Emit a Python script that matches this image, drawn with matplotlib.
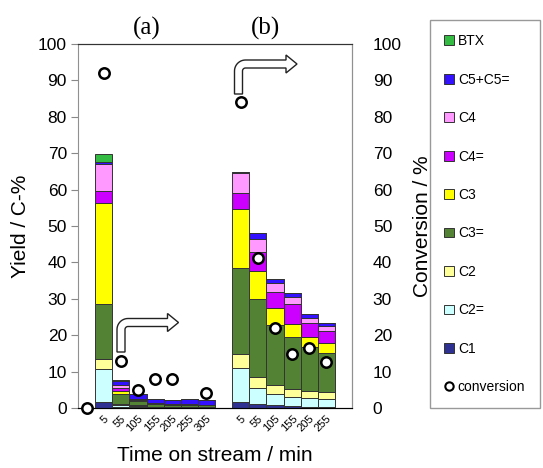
import numpy as np
import matplotlib
matplotlib.use("Agg")
import matplotlib.pyplot as plt
from matplotlib.path import Path
from matplotlib.patches import PathPatch, Patch
from matplotlib.lines import Line2D
from matplotlib.transforms import Affine2D

plt.rcParams['font.family'] = ['Liberation Sans', 'DejaVu Sans']

W, H = 543, 468

# 16 category slots: blank, run (a) 5..305, blank, run (b) 5..255, blank
tick_labels = ['', '5', '55', '105', '155', '205', '255', '305',
               '', '5', '55', '105', '155', '205', '255', '']

# yields, C-% (stack order bottom -> top)
c1   = [0, 1.6, 0.3, 0.3, 0.2, 0.1, 0.1, 0.1, 0, 1.7, 1.0, 0.8, 0.5, 0.4, 0.4, 0]
c2e  = [0, 9.0, 0.4, 0.2, 0.1, 0.1, 0.1, 0.1, 0, 9.4, 4.4, 3.0, 2.4, 2.4, 2.1, 0]
c2   = [0, 2.8, 0.5, 0.2, 0.1, 0.1, 0.1, 0.1, 0, 3.6, 3.0, 2.5, 2.2, 1.9, 1.8, 0]
c3e  = [0, 15.1, 2.6, 1.2, 0.6, 0.5, 0.5, 0.4, 0, 23.8, 21.5, 16.5, 14.3, 12.1, 10.9, 0]
c3   = [0, 27.9, 0.9, 0.3, 0.1, 0.1, 0.1, 0.1, 0, 16.2, 7.7, 4.6, 3.6, 2.8, 2.6, 0]
c4e  = [0, 3.2, 0.7, 0.2, 0.1, 0.1, 0.1, 0.1, 0, 4.3, 5.2, 4.6, 5.5, 3.7, 3.4, 0]
c4   = [0, 7.3, 0.8, 0.1, 0.1, 0.05, 0.05, 0.05, 0, 5.6, 3.6, 2.4, 2.1, 1.5, 1.4, 0]
c5   = [0, 0.6, 1.3, 1.3, 1.2, 1.1, 1.3, 1.3, 0, 0.1, 1.6, 1.0, 1.1, 0.9, 0.7, 0]
btx  = [0, 2.4, 0.2, 0.1, 0, 0, 0, 0, 0, 0, 0, 0, 0, 0, 0, 0]

conversion = [0, 92, 13, 5, 8, 8, np.nan, 4, np.nan,
              84, 41.3, 22.1, 14.7, 16.6, 12.6, np.nan]

series = [
    ('C1', c1, '#2e3192'),
    ('C2=', c2e, '#ccffff'),
    ('C2', c2, '#ffff99'),
    ('C3=', c3e, '#548235'),
    ('C3', c3, '#ffff00'),
    ('C4=', c4e, '#cc00ff'),
    ('C4', c4, '#ff99ff'),
    ('C5+C5=', c5, '#3311ff'),
    ('BTX', btx, '#33bb44'),
]

fig = plt.figure(figsize=(W / 100, H / 100), dpi=100)
ax = fig.add_axes([78 / W, 1 - 408 / H, (352 - 78) / W, (408 - 44) / H])

x = np.arange(len(tick_labels))
bottom = np.zeros(len(x))
for name, vals, col in series:
    v = np.array(vals, dtype=float)
    ax.bar(x, v, width=1.0, bottom=bottom, color=col,
           edgecolor='#333333', linewidth=0.7, zorder=2)
    bottom += v

ax.set_xlim(-0.5, 15.5)
ax.set_ylim(0, 100)
ax.set_yticks(np.arange(0, 101, 10))
ax.set_xticks(x)
ax.set_xticklabels(tick_labels, rotation=45, ha='right', va='top',
                   rotation_mode='anchor', fontsize=8)
ax.tick_params(axis='x', length=0, pad=4)
ax.tick_params(axis='y', labelsize=12.5, length=5, color='#888888', pad=3)
ax.set_ylabel('Yield / C-%', fontsize=15, labelpad=6)
ax.set_xlabel('Time on stream / min', fontsize=15, labelpad=9)
for side in ['left', 'right']:
    ax.spines[side].set_color('#909090')
for side in ['top', 'bottom']:
    ax.spines[side].set_color('#333333')

ax2 = ax.twinx()
ax2.set_ylim(0, 100)
ax2.set_yticks(np.arange(0, 101, 10))
ax2.tick_params(axis='y', labelsize=12.5, length=0, pad=15)
ax2.set_ylabel('Conversion / %', fontsize=15, labelpad=8)
ax2.spines['right'].set_color('#909090')
ax2.spines['left'].set_visible(False)
ax2.spines['top'].set_color('#333333')
ax2.plot(x, conversion, linestyle='none', marker='o', markersize=7.5,
         markerfacecolor='white', markeredgecolor='black',
         markeredgewidth=1.8, zorder=5, clip_on=False)

# run labels
fig.text(147 / W, 1 - 28 / H, '(a)', ha='center', va='center',
         fontsize=18, family='Liberation Serif')
fig.text(265 / W, 1 - 28 / H, '(b)', ha='center', va='center',
         fontsize=18, family='Liberation Serif')

# hollow bent arrows (image pixel coordinates)
px = Affine2D().scale(1 / W, -1 / H).translate(0, 1) + fig.transFigure


def bent_arrow(cx, yb, cy, tx):
    w, rc, hl, hh = 4.0, 7.0, 11.0, 9.0
    hx = tx - hl
    ccx, ccy = cx + rc, cy + rc
    a = np.linspace(np.pi, 1.5 * np.pi, 12)
    outer = [(ccx + (rc + w) * np.cos(t), ccy + (rc + w) * np.sin(t)) for t in a]
    inner = [(ccx + (rc - w) * np.cos(t), ccy + (rc - w) * np.sin(t)) for t in a[::-1]]
    pts = [(cx - w, yb)] + outer + [(hx, cy - w), (hx, cy - hh), (tx, cy),
                                    (hx, cy + hh), (hx, cy + w)] + inner + [(cx + w, yb), (cx - w, yb)]
    codes = [Path.MOVETO] + [Path.LINETO] * (len(pts) - 2) + [Path.CLOSEPOLY]
    return PathPatch(Path(pts, codes), facecolor='white', edgecolor='#222222',
                     linewidth=1.0, transform=px, zorder=10)


fig.add_artist(bent_arrow(121, 352, 322.5, 178.5))
fig.add_artist(bent_arrow(238.5, 94, 64, 297))

# legend
handles = [Patch(facecolor=col, edgecolor='#333333', linewidth=0.7, label=name)
           for name, vals, col in series[::-1]]
handles.append(Line2D([], [], linestyle='none', marker='o', markersize=6,
                      markerfacecolor='white', markeredgecolor='black',
                      markeredgewidth=1.5, label='conversion'))
leg = fig.legend(handles=handles, loc='upper left',
                 bbox_to_anchor=(430 / W, 1 - 25 / H, 110 / W, 0.01),
                 mode='expand', fontsize=10, frameon=True, fancybox=False,
                 handlelength=0.7, handleheight=0.7, handletextpad=0.3,
                 labelspacing=1.76, borderpad=1.0, borderaxespad=0)
leg.get_frame().set_edgecolor('#808080')
leg.get_frame().set_linewidth(1.0)

fig.savefig('out.png', dpi=100)
